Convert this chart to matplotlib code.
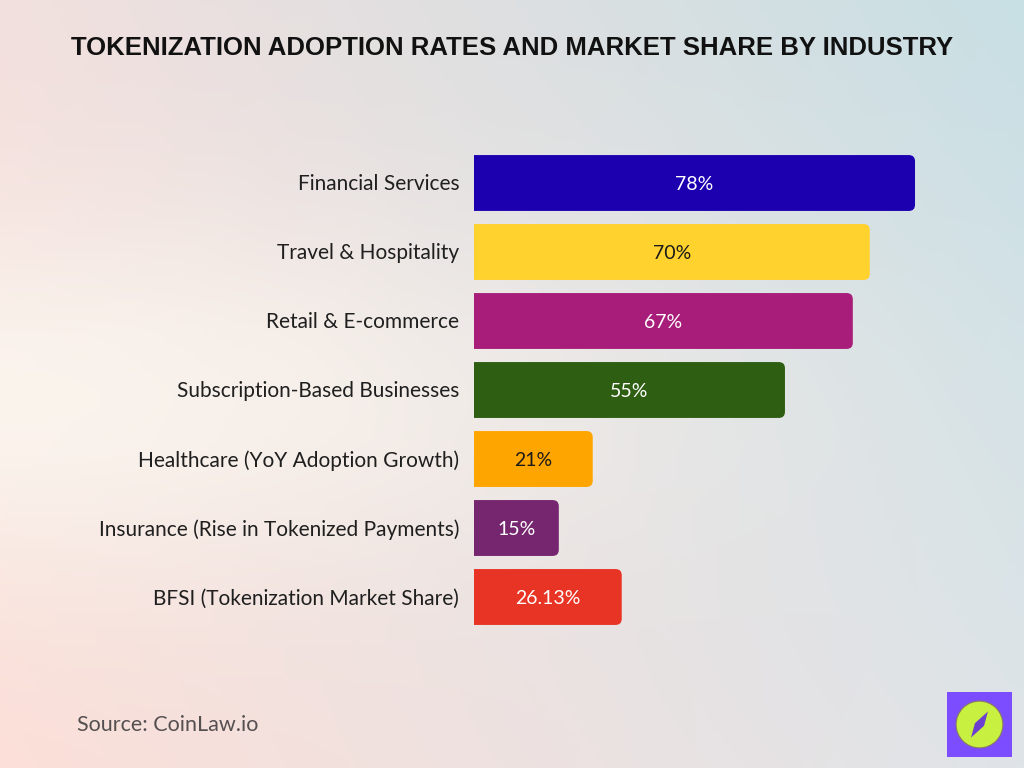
import numpy as np
import matplotlib.pyplot as plt
from matplotlib.patches import FancyBboxPatch, Rectangle, Circle, Polygon
from matplotlib.colors import to_rgb

industries = ["Financial Services", "Travel & Hospitality", "Retail & E-commerce",
              "Subscription-Based Businesses", "Healthcare (YoY Adoption Growth)",
              "Insurance (Rise in Tokenized Payments)", "BFSI (Tokenization Market Share)"]
values = [78, 70, 67, 55, 21, 15, 26.13]
labels = ["78%", "70%", "67%", "55%", "21%", "15%", "26.13%"]
colors = ["#1c00b0", "#ffd22e", "#a81d7a", "#2e5e12", "#ffa500", "#76266e", "#e83424"]
text_colors = ["white", "#1a1a1a", "white", "white", "#1a1a1a", "white", "white"]

W, H = 1024, 768
fig = plt.figure(figsize=(W / 100, H / 100), dpi=100)

# background gradient
bg = fig.add_axes([0, 0, 1, 1])
yy, xx = np.mgrid[0:1:200j, 0:1:260j]
tl, tr = np.array(to_rgb("#f2e0de")), np.array(to_rgb("#c8dfe4"))
bl, br = np.array(to_rgb("#fcdfd8")), np.array(to_rgb("#dfe4e8"))
ml = np.array(to_rgb("#fbf7f0"))
img = ((1 - xx)[..., None] * (1 - yy)[..., None] * tl + xx[..., None] * (1 - yy)[..., None] * tr
       + (1 - xx)[..., None] * yy[..., None] * bl + xx[..., None] * yy[..., None] * br)
w = np.exp(-((yy - 0.52) ** 2) / 0.06 - (xx ** 2) / 0.35)[..., None] * 0.85
img = img * (1 - w) + ml * w
bg.imshow(img, aspect="auto", extent=[0, 1, 0, 1], origin="upper")
bg.set_axis_off()

# bar axes: x=0 at 474 px, 5.654 px per %, rows 69 px apart
x0, ppu = 474, 5.654
xmax = 90
ax_w = xmax * ppu
ax_top, ax_bot = 148.5, 631.5
ax = fig.add_axes([x0 / W, 1 - ax_bot / H, ax_w / W, (ax_bot - ax_top) / H])
ax.set_xlim(0, xmax)
ax.set_ylim(len(values) - 0.5, -0.5)
ax.set_axis_off()

ypos = np.arange(len(values))
bars = ax.barh(ypos, values, height=0.81, color=colors)
aspect = ppu / 69.0
for b, c in zip(bars, colors):
    b.set_visible(False)
    x, y, bw, bh = b.get_x(), b.get_y(), b.get_width(), b.get_height()
    ax.add_patch(FancyBboxPatch((x - 2, y), bw + 2, bh,
                                boxstyle="round,pad=0,rounding_size=1.1",
                                mutation_aspect=aspect, fc=c, ec="none"))

for i, (v, lab, tc) in enumerate(zip(values, labels, text_colors)):
    ax.text(v / 2, i + 0.02, lab, ha="center", va="center", color=tc, fontsize=14,
            family="Lato")
    ax.text(-2.6, i + 0.02, industries[i], ha="right", va="center", color="#1f1f1f",
            fontsize=15, family="Lato", clip_on=False)

fig.text(0.5, 1 - 48 / H, "TOKENIZATION ADOPTION RATES AND MARKET SHARE BY INDUSTRY",
         ha="center", va="center", fontsize=18.5, fontweight="bold",
         family="Liberation Sans", color="#111111")

fig.text(77 / W, 1 - 725 / H, "Source: CoinLaw.io", ha="left", va="center",
         fontsize=15.5, family="Lato", color="#555050")

# logo
lg = fig.add_axes([947 / W, 1 - 757 / H, 65 / W, 65 / H])
lg.set_xlim(0, 1)
lg.set_ylim(0, 1)
lg.set_axis_off()
lg.add_patch(Rectangle((0, 0), 1, 1, fc="#7b4dff", ec="none"))
lg.add_patch(Circle((0.5, 0.5), 0.36, fc="#c8f040", ec="#8a7a60", lw=0.8))
lg.add_patch(Polygon([[0.37, 0.3], [0.43, 0.52], [0.63, 0.7], [0.57, 0.48]],
                     closed=True, fc="#6b3fd0", ec="none"))

fig.savefig("out.png", dpi=100)
